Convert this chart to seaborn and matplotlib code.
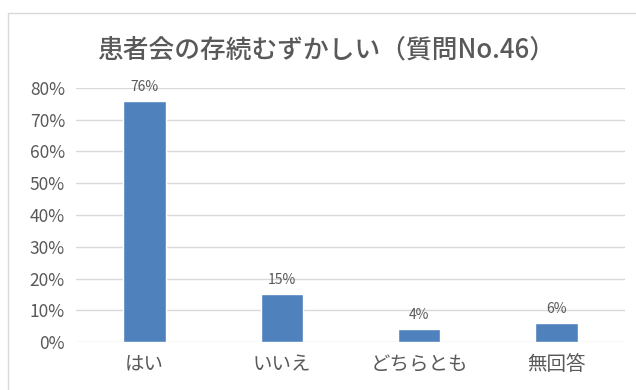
import matplotlib
matplotlib.use("Agg")
import matplotlib.pyplot as plt
import seaborn as sns
import pandas as pd
from matplotlib.patches import Rectangle
from matplotlib.ticker import FuncFormatter, MultipleLocator

categories = ["はい", "いいえ", "どちらとも", "無回答"]
values = [0.76, 0.15, 0.04, 0.06]
labels = ["76%", "15%", "4%", "6%"]
title = "患者会の存続むずかしい（質問No.46）"

sns.set_theme(style="white")
plt.rcParams['font.family'] = ['Noto Sans CJK JP', 'DejaVu Sans']

df = pd.DataFrame({"cat": categories, "val": values})

fig = plt.figure(figsize=(6.36, 3.9), dpi=100)
ax = fig.add_axes([76/636, 1-342/390, (625-76)/636, (342-88)/390])

sns.barplot(data=df, x="cat", y="val", color="#4F81BD", width=0.31,
            saturation=1, ax=ax, zorder=3)

ax.set_ylim(0, 0.8)
ax.yaxis.set_major_locator(MultipleLocator(0.1))
ax.yaxis.set_major_formatter(FuncFormatter(lambda v, p: f"{v*100:.0f}%"))
ax.grid(axis="y", color="#D9D9D9", linewidth=1, zorder=0)
ax.grid(axis="x", visible=False)
for s in ax.spines.values():
    s.set_visible(False)
ax.set_xlabel("")
ax.set_ylabel("")
ax.tick_params(axis="y", length=0, pad=8, labelsize=12.5, labelcolor="#595959")
ax.tick_params(axis="x", length=0, pad=9, labelsize=14, labelcolor="#595959")

for cont in ax.containers:
    ax.bar_label(cont, labels=labels, padding=5, fontsize=10, color="#595959")

fig.text(326/636, 1-50/390, title, ha="center", va="center",
         fontsize=18.5, fontweight="medium", color="#595959")

fig.patches.append(Rectangle((8/636, -0.05), 1.1, 1-13/390+0.05,
                             transform=fig.transFigure, fill=False,
                             edgecolor="#D9D9D9", linewidth=1))

fig.savefig("out.png", dpi=100)
